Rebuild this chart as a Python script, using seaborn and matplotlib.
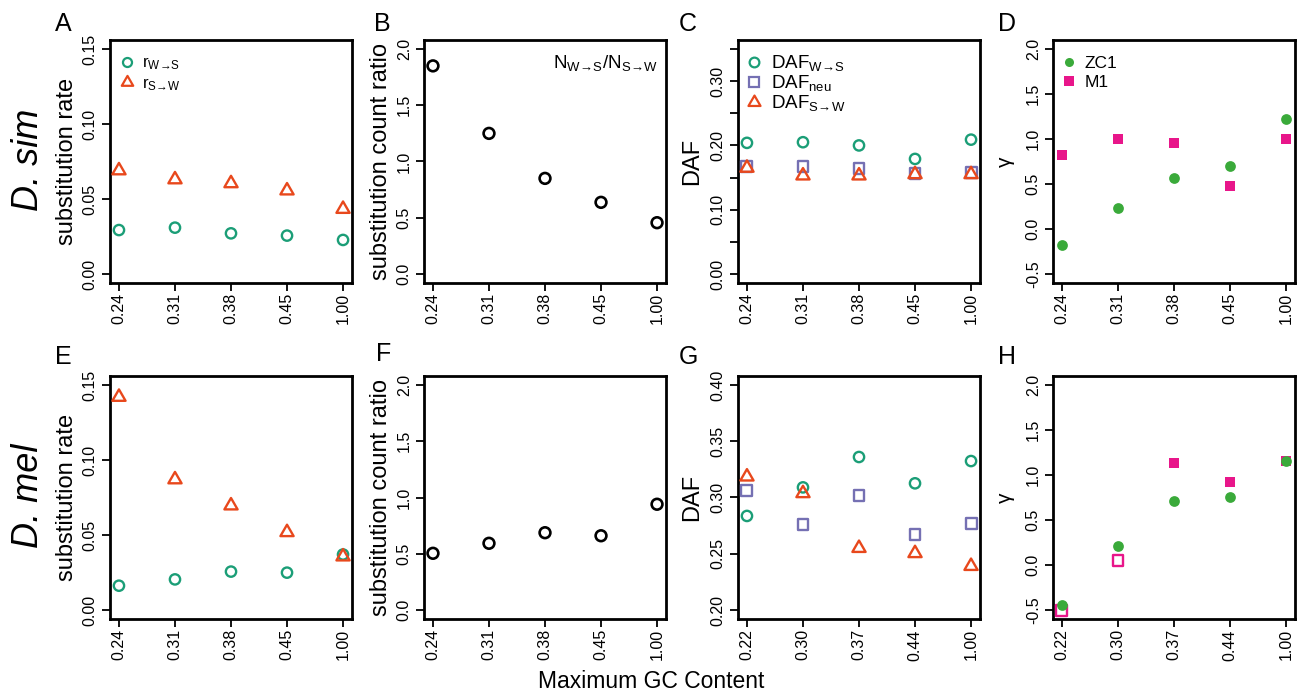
import numpy as np
import pandas as pd
import matplotlib
matplotlib.use("Agg")
import matplotlib.pyplot as plt
import seaborn as sns
from matplotlib.lines import Line2D
from matplotlib.path import Path
from matplotlib.markers import MarkerStyle

# ---------------- data ----------------
gc_sim = ["0.24", "0.31", "0.38", "0.45", "1.00"]
gc_mel = ["0.22", "0.30", "0.37", "0.44", "1.00"]

sim_r_ws = [0.0293, 0.0309, 0.0271, 0.0256, 0.0227]
sim_r_sw = [0.0690, 0.0630, 0.0604, 0.0556, 0.0433]
sim_ratio = [1.85, 1.25, 0.85, 0.637, 0.456]
sim_daf_ws = [0.204, 0.205, 0.200, 0.179, 0.209]
sim_daf_neu = [0.167, 0.167, 0.164, 0.156, 0.158]
sim_daf_sw = [0.165, 0.153, 0.153, 0.155, 0.155]
sim_gamma_zc1 = [-0.178, 0.23, 0.57, 0.70, 1.22]
sim_gamma_m1 = [0.82, 1.00, 0.96, 0.48, 1.00]
sim_m1_filled = [True, True, True, True, True]

mel_r_ws = [0.0162, 0.0204, 0.0256, 0.0249, 0.0370]
mel_r_sw = [0.142, 0.087, 0.0696, 0.0518, 0.0356]
mel_ratio = [0.504, 0.593, 0.687, 0.660, 0.940]
mel_daf_ws = [0.2836, 0.309, 0.336, 0.3126, 0.3324]
mel_daf_neu = [0.306, 0.2756, 0.302, 0.2667, 0.277]
mel_daf_sw = [0.3185, 0.3037, 0.255, 0.2504, 0.239]
mel_gamma_zc1 = [-0.444, 0.215, 0.715, 0.752, 1.159]
mel_gamma_m1 = [-0.508, 0.048, 1.137, 0.926, 1.160]
mel_m1_filled = [False, False, True, True, True]

# ---------------- style ----------------
sns.set_theme(style="ticks")
plt.rcParams["font.family"] = ["Liberation Sans", "DejaVu Sans"]
plt.rcParams["mathtext.fontset"] = "custom"
plt.rcParams["mathtext.rm"] = "Liberation Sans"
plt.rcParams["mathtext.it"] = "Liberation Sans:italic"
plt.rcParams["text.color"] = "black"
plt.rcParams["axes.labelcolor"] = "black"
plt.rcParams["xtick.color"] = "black"
plt.rcParams["ytick.color"] = "black"

C_GREEN = "#1B9E77"
C_RED = "#E8481C"
C_PURPLE = "#7570B3"
C_ZC1 = "#3AAA3A"
C_M1 = "#E8168A"
BLACK = "#000000"

tri_path = Path([(0, 0.577), (-0.5, -0.2887), (0.5, -0.2887), (0, 0)], closed=True)
TRI = MarkerStyle(tri_path)

fig = plt.figure(figsize=(12.99, 6.94), dpi=100)
W, H = 1299.0, 694.0
col_left = [110, 424, 738, 1053]
ax_w = 242
rows = [(40, 283), (376, 619)]

axes = []
for (top, bot) in rows:
    r = []
    for left in col_left:
        a = fig.add_axes([left / W, 1 - bot / H, ax_w / W, (bot - top) / H])
        r.append(a)
    axes.append(r)


def pts(ax, x, y, marker, color, filled, s, lw=1.7, zorder=3):
    kw = dict(marker=marker, s=s, ax=ax, legend=False, zorder=zorder, clip_on=False)
    if filled:
        sns.scatterplot(x=x, y=y, color=color, edgecolor=color, linewidth=0, **kw)
    else:
        sns.scatterplot(x=x, y=y, color=color, edgecolor=color,
                        facecolors="none", linewidth=lw, **kw)


def style_axis(ax, ylim, yticks, ylabels=None):
    ax.set_xlim(-0.16, 4.16)
    ax.set_ylim(*ylim)
    ax.set_yticks(yticks)
    if ylabels is not None:
        ax.set_yticklabels(ylabels)
    for sp in ax.spines.values():
        sp.set_visible(True)
        sp.set_linewidth(2.0)
        sp.set_color("black")
    ax.tick_params(axis="both", direction="out", length=5.8, width=1.3,
                   color="black", labelsize=11.5, labelcolor="black")
    ax.tick_params(axis="x", labelrotation=90, pad=1.5)
    ax.tick_params(axis="y", labelrotation=90, pad=3)
    for lab in ax.get_yticklabels():
        lab.set_va("center")
    ax.set_xlabel("")
    ax.grid(False)
    ax.set_facecolor("white")


def leg(ax, handles, labels, x, y, fs, spacing):
    ax.legend(handles, labels, loc="upper left", bbox_to_anchor=(x, y),
              frameon=False, fontsize=fs, handlelength=1.0, handletextpad=0.4,
              borderpad=0, borderaxespad=0, labelspacing=spacing)


def open_handle(marker, color, ms, mew=1.6):
    return Line2D([], [], linestyle="none", marker=marker, markersize=ms,
                  markerfacecolor="none", markeredgecolor=color, markeredgewidth=mew)


def fill_handle(marker, color, ms):
    return Line2D([], [], linestyle="none", marker=marker, markersize=ms,
                  markerfacecolor=color, markeredgecolor=color, markeredgewidth=0)


ARW = r"\!\rightarrow\!"
lab_ws = r"$\mathregular{r_{W" + ARW + r"S}}$"
lab_sw = r"$\mathregular{r_{S" + ARW + r"W}}$"

panels = [
    (gc_sim, gc_sim, sim_r_ws, sim_r_sw, sim_ratio, sim_daf_ws, sim_daf_neu, sim_daf_sw,
     sim_gamma_zc1, sim_gamma_m1, sim_m1_filled, (-0.014, 0.364)),
    (gc_sim, gc_mel, mel_r_ws, mel_r_sw, mel_ratio, mel_daf_ws, mel_daf_neu, mel_daf_sw,
     mel_gamma_zc1, mel_gamma_m1, mel_m1_filled, (0.192, 0.408)),
]

for ri, (gcA, gcB, r_ws, r_sw, ratio, d_ws, d_neu, d_sw, g_zc1, g_m1, m1_filled, daf_lim) in enumerate(panels):
    axA, axB, axC, axD = axes[ri]

    # substitution rate
    pts(axA, gcA, r_ws, "o", C_GREEN, False, 55, zorder=3)
    pts(axA, gcA, r_sw, TRI, C_RED, False, 120, zorder=4)
    style_axis(axA, (-0.006, 0.156), [0, 0.05, 0.10, 0.15], ["0.00", "0.05", "0.10", "0.15"])
    axA.set_ylabel("substitution rate", fontsize=17, va="center")
    axA.yaxis.set_label_coords(-0.178, 0.5)

    # substitution count ratio
    pts(axB, gcA, ratio, "o", BLACK, False, 60, lw=1.9)
    style_axis(axB, (-0.08, 2.08), [0, 0.5, 1.0, 1.5, 2.0], ["0.0", "0.5", "1.0", "1.5", "2.0"])
    axB.set_ylabel("substitution count ratio", fontsize=17, va="center")
    axB.yaxis.set_label_coords(-0.176, 0.5)

    # DAF
    pts(axC, gcB, d_ws, "o", C_GREEN, False, 55, zorder=3)
    pts(axC, gcB, d_neu, "s", C_PURPLE, False, 62, zorder=4)
    pts(axC, gcB, d_sw, TRI, C_RED, False, 120, zorder=5)
    if ri == 0:
        yt = [0, 0.05, 0.10, 0.15, 0.20, 0.25, 0.30, 0.35]
        yl = ["0.00", "", "0.10", "", "0.20", "", "0.30", ""]
    else:
        yt = [0.20, 0.25, 0.30, 0.35, 0.40]
        yl = ["0.20", "0.25", "0.30", "0.35", "0.40"]
    style_axis(axC, daf_lim, yt, yl)
    axC.set_ylabel("DAF", fontsize=17, va="center")
    axC.yaxis.set_label_coords(-0.19, 0.5)

    # gamma
    pts(axD, gcB, g_zc1, "o", C_ZC1, True, 60, zorder=4)
    xf = [g for g, f in zip(gcB, m1_filled) if f]
    yf = [v for v, f in zip(g_m1, m1_filled) if f]
    xo = [g for g, f in zip(gcB, m1_filled) if not f]
    yo = [v for v, f in zip(g_m1, m1_filled) if not f]
    if xf:
        pts(axD, xf, yf, "s", C_M1, True, 62, zorder=3)
    if xo:
        pts(axD, xo, yo, "s", C_M1, False, 62, lw=1.7, zorder=3)
    style_axis(axD, (-0.6, 2.1), [-0.5, 0, 0.5, 1.0, 1.5, 2.0],
               ["-0.5", "0.0", "0.5", "1.0", "1.5", "2.0"])
    axD.set_ylabel("γ", fontsize=15, va="center")
    axD.yaxis.set_label_coords(-0.198, 0.5)

    if ri == 0:
        leg(axA, [open_handle("o", C_GREEN, 6.5), open_handle(TRI, C_RED, 9.5)],
            [lab_ws, lab_sw], 0.035, 0.935, 12, 0.2)
        axB.text(0.967, 0.905,
                 r"$\mathregular{N_{W" + ARW + r"S}/N_{S" + ARW + r"W}}$",
                 transform=axB.transAxes, ha="right", va="center", fontsize=13.5)
        leg(axC, [open_handle("o", C_GREEN, 7), open_handle("s", C_PURPLE, 7.5),
                  open_handle(TRI, C_RED, 10)],
            [r"$\mathregular{DAF_{W" + ARW + r"S}}$", r"$\mathregular{DAF_{neu}}$",
             r"$\mathregular{DAF_{S" + ARW + r"W}}$"], 0.027, 0.945, 13.5, 0.0)
        leg(axD, [fill_handle("o", C_ZC1, 6.5), fill_handle("s", C_M1, 6.5)],
            ["ZC1", "M1"], 0.03, 0.935, 12.5, 0.25)

# species labels
fig.text(28 / W, 1 - 160 / H, "D. sim", rotation=90, ha="center", va="center",
         fontsize=26, style="italic")
fig.text(28 / W, 1 - 496 / H, "D. mel", rotation=90, ha="center", va="center",
         fontsize=26, style="italic")

# panel letters
letters = [("A", 63, 24), ("B", 382, 24), ("C", 688, 24), ("D", 1007, 24),
           ("E", 63, 357), ("F", 384, 354), ("G", 688, 357), ("H", 1007, 357)]
for t, px, py in letters:
    fig.text(px / W, 1 - py / H, t, ha="center", va="center", fontsize=18)

fig.text(651 / W, 1 - 681 / H, "Maximum GC Content", ha="center", va="center", fontsize=16.5)

fig.savefig("out.png", dpi=100, facecolor="white")
